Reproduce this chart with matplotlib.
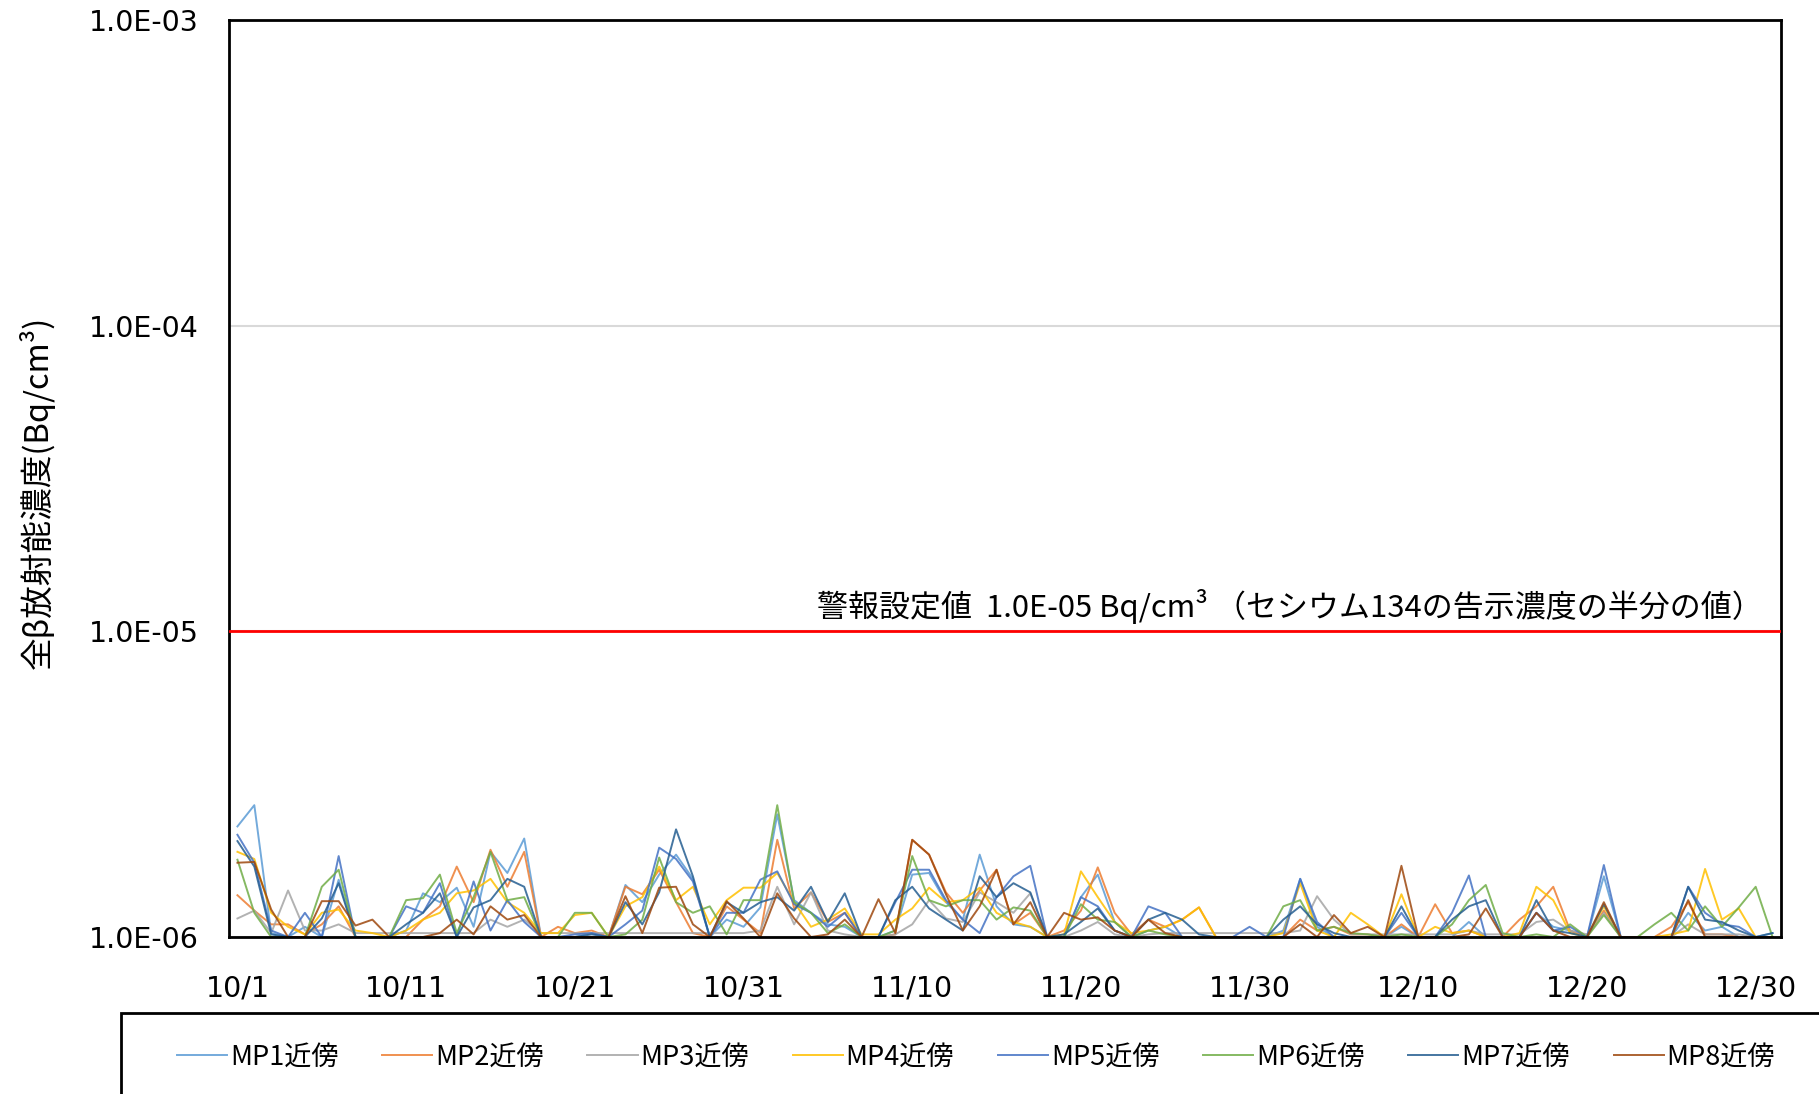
import matplotlib
matplotlib.use("Agg")
import matplotlib.pyplot as plt
from matplotlib.patches import Rectangle
import numpy as np

# daily gross beta concentration, in units of 1e-6 Bq/cm3 (10/1 - 12/31)
mp1 = [2.3, 2.7, 1.03, 1.0, 1.08, 1.0, 1.54, 1.0, 1.0, 1.0,
       1.05, 1.39, 1.3, 1.45, 1.08, 1.9, 1.62, 2.1, 1.0, 1.0,
       1.0, 1.03, 1.0, 1.48, 1.3, 1.6, 1.86, 1.55, 1.0, 1.14,
       1.08, 1.25, 2.52, 1.32, 1.2, 1.1, 1.08, 1.0, 1.0, 1.05,
       1.6, 1.62, 1.3, 1.14, 1.86, 1.26, 1.1, 1.08, 1.0, 1.0,
       1.35, 1.6, 1.12, 1.0, 1.05, 1.08, 1.0, 1.0, 1.0, 1.0,
       1.0, 1.0, 1.05, 1.55, 1.08, 1.0, 1.0, 1.0, 1.0, 1.08,
       1.0, 1.0, 1.0, 1.12, 1.0, 1.0, 1.0, 1.2, 1.08, 1.05,
       1.0, 1.58, 1.0, 1.0, 1.0, 1.0, 1.2, 1.05, 1.08, 1.0,
       1.0, 1.03]
mp2 = [1.37, 1.22, 1.1, 1.1, 1.02, 1.1, 1.26, 1.0, 1.0, 1.0,
       1.0, 1.14, 1.26, 1.7, 1.3, 1.93, 1.46, 1.9, 1.0, 1.08,
       1.03, 1.05, 1.0, 1.46, 1.38, 1.66, 1.3, 1.03, 1.0, 1.26,
       1.14, 1.03, 2.08, 1.24, 1.4, 1.12, 1.2, 1.0, 1.0, 1.02,
       2.08, 1.86, 1.4, 1.2, 1.42, 1.66, 1.1, 1.2, 1.0, 1.05,
       1.22, 1.69, 1.2, 1.02, 1.14, 1.08, 1.14, 1.25, 1.0, 1.0,
       1.0, 1.0, 1.0, 1.14, 1.05, 1.08, 1.02, 1.02, 1.0, 1.1,
       1.0, 1.28, 1.03, 1.05, 1.0, 1.0, 1.14, 1.26, 1.46, 1.05,
       1.0, 1.22, 1.0, 1.0, 1.0, 1.08, 1.3, 1.02, 1.02, 1.0,
       1.0, 1.0]
mp3 = [1.15, 1.22, 1.03, 1.42, 1.05, 1.05, 1.1, 1.03, 1.03, 1.03,
       1.03, 1.03, 1.03, 1.03, 1.03, 1.14, 1.08, 1.14, 1.03, 1.03,
       1.03, 1.03, 1.03, 1.03, 1.03, 1.03, 1.03, 1.03, 1.03, 1.03,
       1.03, 1.05, 1.46, 1.1, 1.4, 1.05, 1.02, 1.0, 1.0, 1.02,
       1.1, 1.32, 1.15, 1.12, 1.4, 1.3, 1.2, 1.39, 1.0, 1.0,
       1.05, 1.12, 1.02, 1.0, 1.02, 1.03, 1.03, 1.03, 1.03, 1.03,
       1.03, 1.03, 1.03, 1.05, 1.36, 1.14, 1.02, 1.02, 1.02, 1.02,
       1.02, 1.02, 1.02, 1.05, 1.02, 1.02, 1.02, 1.12, 1.14, 1.05,
       1.02, 1.2, 1.0, 1.0, 1.0, 1.0, 1.1, 1.02, 1.02, 1.02,
       1.0, 1.0]
mp4 = [1.9, 1.8, 1.2, 1.08, 1.02, 1.2, 1.23, 1.05, 1.03, 1.0,
       1.05, 1.14, 1.2, 1.39, 1.42, 1.55, 1.3, 1.2, 1.03, 1.03,
       1.18, 1.2, 1.0, 1.26, 1.35, 1.7, 1.32, 1.46, 1.1, 1.32,
       1.45, 1.45, 1.62, 1.3, 1.08, 1.14, 1.24, 1.02, 1.02, 1.14,
       1.24, 1.45, 1.3, 1.32, 1.45, 1.2, 1.12, 1.08, 1.0, 1.02,
       1.64, 1.35, 1.12, 1.03, 1.05, 1.08, 1.14, 1.25, 1.0, 1.0,
       1.0, 1.0, 1.03, 1.5, 1.05, 1.0, 1.2, 1.1, 1.0, 1.38,
       1.0, 1.08, 1.03, 1.05, 1.0, 1.0, 1.03, 1.46, 1.32, 1.03,
       1.0, 1.26, 1.0, 1.0, 1.0, 1.02, 1.05, 1.67, 1.14, 1.24,
       1.0, 1.0]
mp5 = [2.16, 1.75, 1.05, 1.0, 1.2, 1.0, 1.84, 1.0, 1.0, 1.0,
       1.26, 1.2, 1.5, 1.0, 1.52, 1.05, 1.32, 1.12, 1.0, 1.0,
       1.02, 1.03, 1.0, 1.1, 1.22, 1.96, 1.8, 1.52, 1.0, 1.2,
       1.2, 1.54, 1.64, 1.28, 1.2, 1.08, 1.2, 1.0, 1.0, 1.3,
       1.66, 1.66, 1.32, 1.14, 1.03, 1.35, 1.58, 1.71, 1.0, 1.0,
       1.35, 1.26, 1.05, 1.0, 1.26, 1.2, 1.0, 1.0, 1.0, 1.0,
       1.08, 1.0, 1.0, 1.55, 1.12, 1.0, 1.0, 1.0, 1.0, 1.2,
       1.0, 1.0, 1.2, 1.59, 1.0, 1.0, 1.0, 1.2, 1.05, 1.08,
       1.0, 1.72, 1.0, 1.0, 1.0, 1.0, 1.46, 1.2, 1.1, 1.08,
       1.0, 1.0]
mp6 = [1.79, 1.2, 1.0, 1.0, 1.0, 1.46, 1.66, 1.0, 1.0, 1.0,
       1.32, 1.34, 1.6, 1.03, 1.35, 1.9, 1.32, 1.35, 1.0, 1.0,
       1.2, 1.2, 1.0, 1.02, 1.14, 1.82, 1.3, 1.2, 1.26, 1.02,
       1.32, 1.32, 2.7, 1.3, 1.2, 1.03, 1.1, 1.0, 1.0, 1.05,
       1.84, 1.32, 1.26, 1.32, 1.32, 1.14, 1.25, 1.22, 1.0, 1.0,
       1.28, 1.14, 1.12, 1.0, 1.05, 1.02, 1.0, 1.0, 1.0, 1.0,
       1.0, 1.0, 1.26, 1.32, 1.05, 1.08, 1.03, 1.02, 1.0, 1.02,
       1.0, 1.0, 1.1, 1.32, 1.48, 1.03, 1.0, 1.02, 1.0, 1.1,
       1.0, 1.18, 1.0, 1.0, 1.1, 1.2, 1.05, 1.26, 1.08, 1.25,
       1.46, 1.0]
mp7 = [2.06, 1.7, 1.02, 1.0, 1.0, 1.15, 1.5, 1.0, 1.0, 1.0,
       1.1, 1.2, 1.39, 1.0, 1.25, 1.32, 1.55, 1.46, 1.0, 1.0,
       1.0, 1.02, 1.0, 1.3, 1.1, 1.4, 2.25, 1.58, 1.0, 1.3,
       1.2, 1.3, 1.35, 1.22, 1.46, 1.12, 1.39, 1.0, 1.0, 1.32,
       1.46, 1.24, 1.14, 1.05, 1.58, 1.35, 1.5, 1.4, 1.0, 1.02,
       1.12, 1.24, 1.05, 1.0, 1.14, 1.2, 1.14, 1.02, 1.0, 1.0,
       1.0, 1.0, 1.14, 1.26, 1.1, 1.03, 1.0, 1.0, 1.0, 1.26,
       1.0, 1.0, 1.14, 1.26, 1.32, 1.0, 1.0, 1.32, 1.05, 1.03,
       1.0, 1.28, 1.0, 1.0, 1.0, 1.0, 1.46, 1.14, 1.12, 1.05,
       1.0, 1.03]
mp8 = [1.75, 1.76, 1.23, 1.0, 1.0, 1.31, 1.31, 1.09, 1.14, 1.0,
       1.0, 1.0, 1.03, 1.14, 1.02, 1.26, 1.14, 1.18, 1.0, 1.0,
       1.0, 1.0, 1.0, 1.36, 1.03, 1.45, 1.46, 1.1, 1.0, 1.31,
       1.15, 1.0, 1.39, 1.15, 1.0, 1.02, 1.14, 1.0, 1.33, 1.03,
       2.08, 1.86, 1.38, 1.05, 1.26, 1.66, 1.1, 1.3, 1.0, 1.2,
       1.14, 1.16, 1.05, 1.0, 1.14, 1.03, 1.0, 1.0, 1.0, 1.0,
       1.0, 1.0, 1.0, 1.1, 1.0, 1.18, 1.03, 1.08, 1.0, 1.71,
       1.0, 1.0, 1.0, 1.02, 1.24, 1.0, 1.0, 1.2, 1.05, 1.0,
       1.0, 1.3, 1.0, 1.0, 1.0, 1.0, 1.32, 1.0, 1.0, 1.0,
       1.0, 1.0]

names = ["MP1近傍", "MP2近傍", "MP3近傍", "MP4近傍",
         "MP5近傍", "MP6近傍", "MP7近傍", "MP8近傍"]
colors = ["#5B9BD5", "#ED7D31", "#A5A5A5", "#FFC000",
          "#4472C4", "#70AD47", "#255E91", "#9E480E"]

tick_days = [0, 10, 20, 30, 40, 50, 60, 70, 80, 90]
tick_labels = ["10/1", "10/11", "10/21", "10/31", "11/10",
               "11/20", "11/30", "12/10", "12/20", "12/30"]
alarm = 1.0e-5

jp = ["Noto Sans CJK JP", "DejaVu Sans"]

fig = plt.figure(figsize=(18.19, 10.94), dpi=100)
ax = fig.add_axes([0.1259, 0.1435, 0.8532, 0.8382])

series = [mp1, mp2, mp3, mp4, mp5, mp6, mp7, mp8]
days = np.arange(len(mp1))
for vals, name, col in zip(series, names, colors):
    ax.plot(days, np.array(vals) * 1e-6, color=col, lw=1.4, alpha=0.85,
            label=name)

ax.set_yscale("log")
ax.set_ylim(1e-6, 1e-3)
ax.set_xlim(-0.5, len(mp1) - 0.5)

ax.axhline(alarm, color="red", lw=2.0, zorder=5)
ax.grid(axis="y", which="major", color="#D9D9D9", lw=1.5)
ax.set_axisbelow(True)

ax.set_yticks([1e-6, 1e-5, 1e-4, 1e-3])
ax.set_yticklabels(["1.0E-06", "1.0E-05", "1.0E-04", "1.0E-03"])
ax.yaxis.set_minor_locator(plt.NullLocator())
ax.set_xticks(tick_days)
ax.set_xticklabels(tick_labels)
ax.tick_params(axis="both", length=0, labelsize=20.5)
ax.tick_params(axis="y", pad=22)
ax.tick_params(axis="x", pad=27)

for s in ax.spines.values():
    s.set_linewidth(2.0)
    s.set_color("black")

ax.set_ylabel("全β放射能濃度(Bq/cm³)", family=jp, fontsize=23.5)
ax.yaxis.set_label_coords(-0.112, 0.485)

ax.annotate("警報設定値  1.0E-05 Bq/cm³ （セシウム134の告示濃度の半分の値）",
            xy=(0.988, alarm), xycoords=("axes fraction", "data"),
            xytext=(0, 5), textcoords="offset points",
            ha="right", va="bottom", family=jp, fontsize=22.3)

# legend frame runs past the figure edge
fig.add_artist(Rectangle((0.0665, -0.02), 0.96, 0.094,
                         transform=fig.transFigure, fill=False,
                         ec="black", lw=2.0, clip_on=False))
fig.legend(loc="center", bbox_to_anchor=(0.5365, 0.0335), ncol=8,
           frameon=False, prop={"family": jp, "size": 19.5},
           handlelength=1.85, handletextpad=0.1, columnspacing=1.62)

fig.savefig("out.png", dpi=100)
